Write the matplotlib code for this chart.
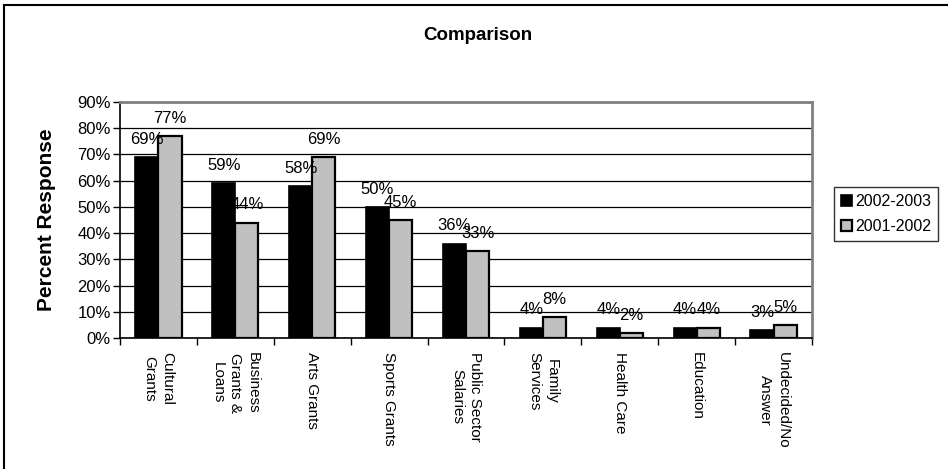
import matplotlib
matplotlib.use("Agg")
import matplotlib.pyplot as plt
import numpy as np
from matplotlib.patches import Rectangle, Patch
from matplotlib.ticker import FuncFormatter, FixedLocator

plt.rcParams['font.family'] = ['Liberation Sans', 'DejaVu Sans']

categories = ["Cultural\nGrants", "Business\nGrants &\nLoans", "Arts Grants", "Sports Grants",
              "Public Sector\nSalaries", "Family\nServices", "Health Care", "Education",
              "Undecided/No\nAnswer"]
series_names = ["2002-2003", "2001-2002"]
values_2002_2003 = [69, 59, 58, 50, 36, 4, 4, 4, 3]
values_2001_2002 = [77, 44, 69, 45, 33, 8, 2, 4, 5]
y_ticks = [0, 10, 20, 30, 40, 50, 60, 70, 80, 90]

W, H = 948, 469
fig = plt.figure(figsize=(W / 100, H / 100), dpi=100)

# chart-area border
fig.patches.append(Rectangle((4 / W, -0.1), 2.0, 1 - 5 / H + 0.1, transform=fig.transFigure,
                             fill=False, edgecolor='black', linewidth=1.5))

ax = fig.add_axes([120 / W, 1 - 338 / H, (812 - 120) / W, (338 - 102) / H])

x = np.arange(len(categories))
bw = 0.3
ax.bar(x - bw / 2, values_2002_2003, width=bw, color='black', edgecolor='black',
       linewidth=1.2, zorder=3, label=series_names[0])
ax.bar(x + bw / 2, values_2001_2002, width=bw, color='#C0C0C0', edgecolor='black',
       linewidth=1.6, zorder=3, label=series_names[1])

for xi, v in zip(x - bw / 2, values_2002_2003):
    ax.annotate(f"{v}%", (xi, v), xytext=(0, 9.5), textcoords='offset points',
                ha='center', va='baseline', fontsize=12, zorder=5)
for xi, v in zip(x + bw / 2, values_2001_2002):
    ax.annotate(f"{v}%", (xi, v), xytext=(0, 9.5), textcoords='offset points',
                ha='center', va='baseline', fontsize=12, zorder=5)

ax.set_xlim(-0.5, len(categories) - 0.5)
ax.set_ylim(0, 90)
ax.set_yticks(y_ticks)
ax.yaxis.set_major_formatter(FuncFormatter(lambda v, p: f"{int(v)}%"))
ax.tick_params(axis='y', length=5, width=1, pad=1.5, labelsize=12, direction='out')

ax.set_xticks(x)
ax.set_xticklabels(categories, rotation=270, ha='center', va='top',
                   multialignment='center', fontsize=11, linespacing=1.35)
ax.tick_params(axis='x', which='major', length=0, pad=10)
ax.xaxis.set_minor_locator(FixedLocator(np.arange(-0.5, len(categories), 1.0)))
ax.tick_params(axis='x', which='minor', length=5, width=1, direction='out')

ax.yaxis.grid(True, color='black', linewidth=0.9, zorder=0)
ax.set_axisbelow(True)
for s in ['left', 'bottom']:
    ax.spines[s].set_color('black')
    ax.spines[s].set_linewidth(1.2)
for s in ['top', 'right']:
    ax.spines[s].set_color('#808080')
    ax.spines[s].set_linewidth(2)

ax.set_ylabel("Percent Response", fontsize=15, fontweight='bold')
ax.yaxis.set_label_coords((56 - 120) / 692, 0.5)
fig.text(478 / W, 1 - 35 / H, "Comparison", ha='center', va='center',
         fontsize=13.5, fontweight='bold')

handles = [Patch(facecolor='black', edgecolor='black', linewidth=1.2),
           Patch(facecolor='#C0C0C0', edgecolor='black', linewidth=1.6)]
leg = fig.legend(handles, series_names, loc='center left',
                 bbox_to_anchor=(834 / W, 1 - 214 / H), fontsize=11.5,
                 frameon=True, fancybox=False, handlelength=0.65, handleheight=0.65,
                 handletextpad=0.2, borderpad=0.45, labelspacing=0.65, borderaxespad=0)
leg.get_frame().set_edgecolor('black')
leg.get_frame().set_linewidth(1.0)

fig.savefig("out.png", dpi=100)
